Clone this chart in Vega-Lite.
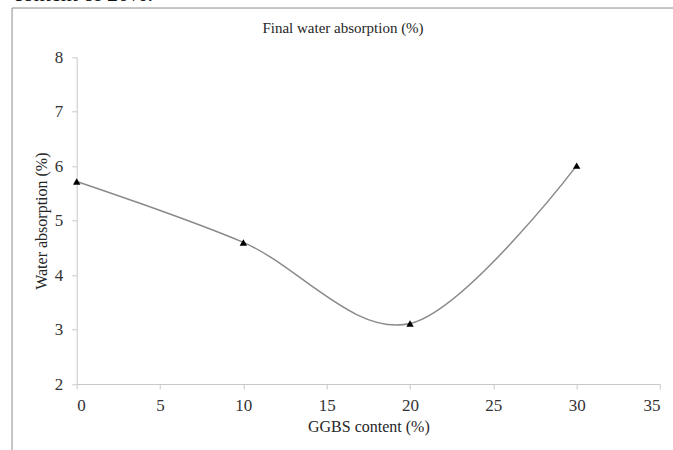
{
  "$schema": "https://vega.github.io/schema/vega-lite/v6.json",
  "autosize": {"type": "none"},
  "padding": {"left": 76.7, "top": 57.3, "right": 13, "bottom": 66},
  "width": 583.3,
  "height": 326.7,
  "background": "white",
  "config": {
    "view": {"stroke": null},
    "font": "Liberation Serif",
    "style": {"guide-label": {"font": "Liberation Serif"}, "guide-title": {"font": "Liberation Serif"}},
    "axis": {
      "grid": false,
      "domainColor": "#c8c8c8",
      "tickColor": "#c8c8c8",
      "tickSize": 5,
      "labelFont": "Liberation Serif",
      "labelFontSize": 17,
      "labelColor": "#333333",
      "titleFont": "Liberation Serif",
      "titleFontSize": 16,
      "titleFontWeight": "normal",
      "titleColor": "#262626"
    }
  },
  "data": {
    "values": [
      {"ggbs": 0, "absorption": 5.72},
      {"ggbs": 10, "absorption": 4.6},
      {"ggbs": 20, "absorption": 3.11},
      {"ggbs": 30, "absorption": 6.01}
    ]
  },
  "layer": [
    {
      "data": {"values": [{}]},
      "mark": {"type": "rect", "fill": null, "stroke": "#8c8c8c", "strokeWidth": 1},
      "encoding": {
        "x": {"datum": -3.88, "type": "quantitative", "scale": {"domain": [0, 35]}},
        "x2": {"datum": 40},
        "y": {"datum": 8.905, "type": "quantitative", "scale": {"domain": [2, 8]}},
        "y2": {"datum": 0}
      }
    },
    {
      "data": {"values": [{"caption": "content of 20%."}]},
      "mark": {"type": "text", "align": "left", "baseline": "alphabetic", "font": "Liberation Serif", "fontSize": 22, "color": "#111"},
      "encoding": {
        "x": {"datum": -3.82, "type": "quantitative"},
        "y": {"datum": 9.035, "type": "quantitative"},
        "text": {"field": "caption"}
      }
    },
    {
      "data": {"values": [{"heading": "Final water absorption (%)"}]},
      "mark": {"type": "text", "align": "center", "baseline": "middle", "font": "Liberation Serif", "fontSize": 15, "color": "#262626"},
      "encoding": {
        "x": {"datum": 15.98, "type": "quantitative"},
        "y": {"datum": 8.54, "type": "quantitative"},
        "text": {"field": "heading"}
      }
    },
    {
      "mark": {"type": "line", "interpolate": "cardinal", "color": "#8a8a8a", "strokeWidth": 1.5},
      "encoding": {
        "x": {
          "field": "ggbs",
          "type": "quantitative",
          "scale": {"domain": [0, 35], "nice": false, "zero": false},
          "axis": {"values": [0, 5, 10, 15, 20, 25, 30, 35], "format": "d", "labelFont": "Liberation Serif", "labelFontSize": 17, "title": "GGBS content (%)", "labelPadding": 8, "titlePadding": 5}
        },
        "y": {
          "field": "absorption",
          "type": "quantitative",
          "scale": {"domain": [2, 8], "nice": false, "zero": false},
          "axis": {"values": [2, 3, 4, 5, 6, 7, 8], "format": "d", "labelFont": "Liberation Serif", "labelFontSize": 17, "title": "Water absorption (%)", "labelPadding": 9, "titlePadding": 5}
        }
      }
    },
    {
      "mark": {"type": "point", "shape": "triangle-up", "filled": true, "color": "black", "size": 55, "opacity": 1},
      "encoding": {
        "x": {"field": "ggbs", "type": "quantitative"},
        "y": {"field": "absorption", "type": "quantitative"}
      }
    }
  ]
}
